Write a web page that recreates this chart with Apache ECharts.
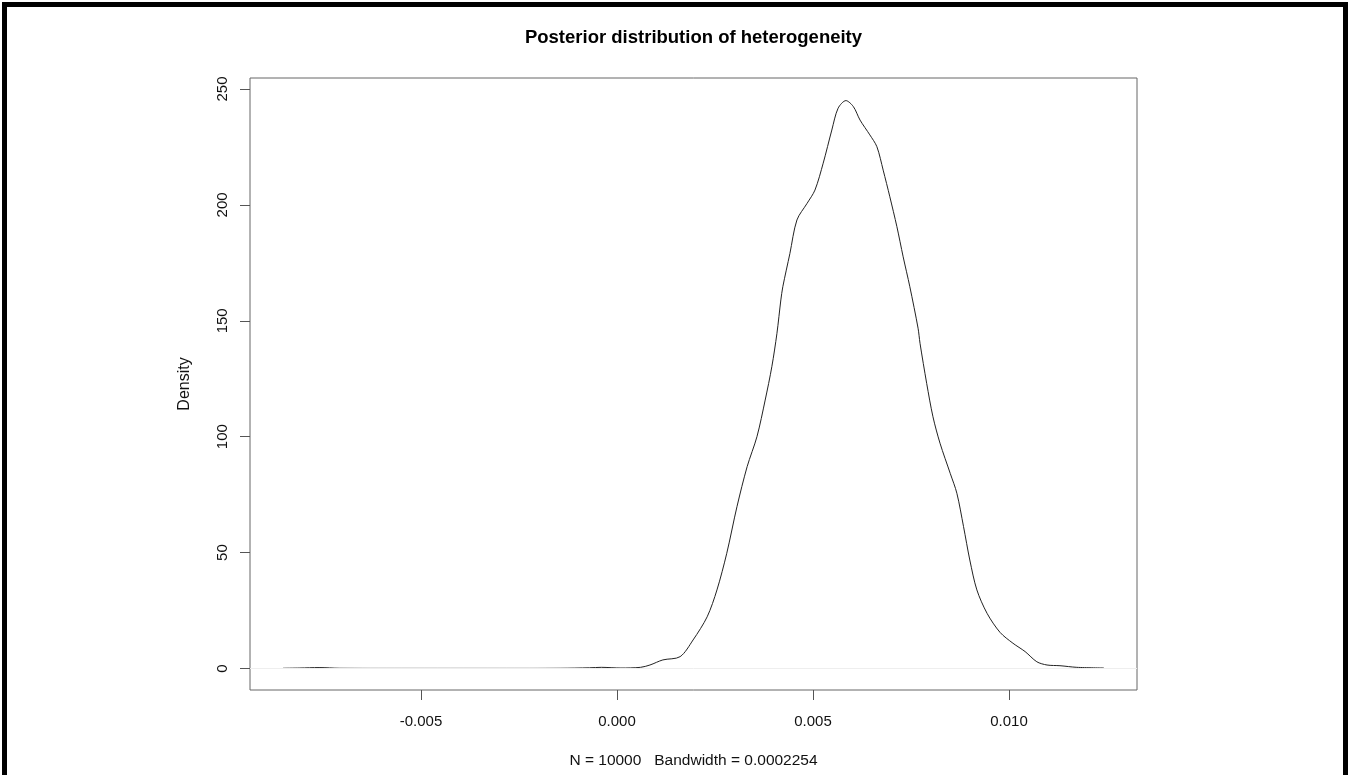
<!DOCTYPE html>
<html>
<head>
<meta charset="utf-8">
<script src="https://cdn.jsdelivr.net/npm/echarts@6/dist/echarts.min.js"></script>
<style>
html,body{margin:0;padding:0;background:#fff;}
#chart{width:1348px;height:775px;}
</style>
</head>
<body>
<div id="chart"></div>
<script>
// Density estimate
var xValues = [-0.00852, -0.00809, -0.0076, -0.00707, -0.0055, -0.003, -0.00145, -0.0007, -0.0004, 0.0001, 0.0006,
  0.00084, 0.00117, 0.00161, 0.00194, 0.0023, 0.00255, 0.0028, 0.00306, 0.00332, 0.00357, 0.00378, 0.00395,
  0.00408, 0.00418, 0.00423, 0.00441, 0.00459, 0.00485, 0.00505, 0.00526, 0.00548, 0.00564, 0.00584, 0.00603,
  0.0062, 0.00645, 0.00663, 0.00679, 0.00696, 0.00714, 0.0073, 0.00747, 0.00768, 0.00773, 0.0079, 0.00806,
  0.00824, 0.0085, 0.00867, 0.00884, 0.009, 0.00918, 0.00944, 0.00977, 0.0101, 0.01041, 0.01071, 0.01097,
  0.0113, 0.01173, 0.01242];
var densityValues = [0.1, 0.2, 0.4, 0.1, 0.05, 0.05, 0.1, 0.3, 0.5, 0.2, 0.5,
  1.5, 3.7, 5.1, 12.3, 22.3, 33.9, 49.7, 69.8, 87.1, 100, 115.8, 130.2,
  144.6, 159, 164.7, 179, 193.5, 200.7, 206.4, 218, 232.3, 241.7, 245, 242.4,
  236.6, 230.2, 225.1, 215, 203.5, 190.6, 177.6, 164.7, 146.8, 140.3, 123, 108.6,
  97.2, 84.2, 75.6, 61.2, 46.8, 33.9, 23.8, 15.6, 10.9, 7.3, 2.9, 1.5,
  1.2, 0.5, 0.2];
var xTicks = [-0.005, 0.000, 0.005, 0.010];
var xTickLabels = ['-0.005', '0.000', '0.005', '0.010'];
var yTicks = [0, 50, 100, 150, 200, 250];
var titleText = 'Posterior distribution of heterogeneity';
var xName = 'N = 10000   Bandwidth = 0.0002254';
var yName = 'Density';

var points = xValues.map(function (x, i) { return [x, densityValues[i]]; });
var FONT = '"Liberation Sans", Arial, sans-serif';

var chart = echarts.init(document.getElementById('chart'), null, {renderer: 'canvas'});
chart.setOption({
  backgroundColor: '#ffffff',
  animation: false,
  graphic: [{
    type: 'text',
    style: {
      x: 693.5, y: 38,
      text: titleText,
      textAlign: 'center', textVerticalAlign: 'middle',
      fontFamily: FONT, fontSize: 18.5, fontWeight: 'bold', fill: '#000'
    },
    silent: true
  }, {
    type: 'rect',
    shape: {x: 4.5, y: 4.5, width: 1341, height: 800},
    style: {fill: null, stroke: '#000', lineWidth: 5},
    silent: true,
    z: 100
  }],
  grid: {
    left: 250, right: 211, top: 78, bottom: 85,
    show: true, borderColor: '#666', borderWidth: 1, backgroundColor: 'transparent'
  },
  xAxis: {
    type: 'value',
    min: -0.009362, max: 0.013265,
    name: xName,
    nameLocation: 'middle',
    nameGap: 63,
    nameTextStyle: {fontFamily: FONT, fontSize: 15.5, color: '#111'},
    splitLine: {show: false},
    axisLine: {show: false, onZero: false},
    axisTick: {show: true, customValues: xTicks, length: 10, lineStyle: {color: '#555'}},
    axisLabel: {
      customValues: xTicks,
      margin: 24,
      fontFamily: FONT, fontSize: 15, color: '#111',
      formatter: function (v) {
        var i = xTicks.indexOf(v);
        return i >= 0 ? xTickLabels[i] : '';
      }
    }
  },
  yAxis: {
    type: 'value',
    min: -9.28, max: 254.75,
    name: yName,
    nameLocation: 'middle',
    nameRotate: 90,
    nameGap: 57,
    nameTextStyle: {fontFamily: FONT, fontSize: 16, color: '#111'},
    splitLine: {show: false},
    axisLine: {show: false, onZero: false},
    axisTick: {show: true, customValues: yTicks, length: 10, lineStyle: {color: '#555'}},
    axisLabel: {
      customValues: yTicks,
      rotate: 90,
      margin: 20,
      fontFamily: FONT, fontSize: 15, color: '#111',
      formatter: function (v) { return String(v); }
    }
  },
  series: [{
    type: 'line',
    data: points,
    smooth: 0.3,
    showSymbol: false,
    symbol: 'none',
    lineStyle: {color: '#222', width: 1},
    markLine: {
      silent: true,
      symbol: 'none',
      label: {show: false},
      lineStyle: {color: '#eeeeee', width: 1, type: 'solid'},
      data: [{yAxis: 0}]
    }
  }]
});
</script>
</body>
</html>
